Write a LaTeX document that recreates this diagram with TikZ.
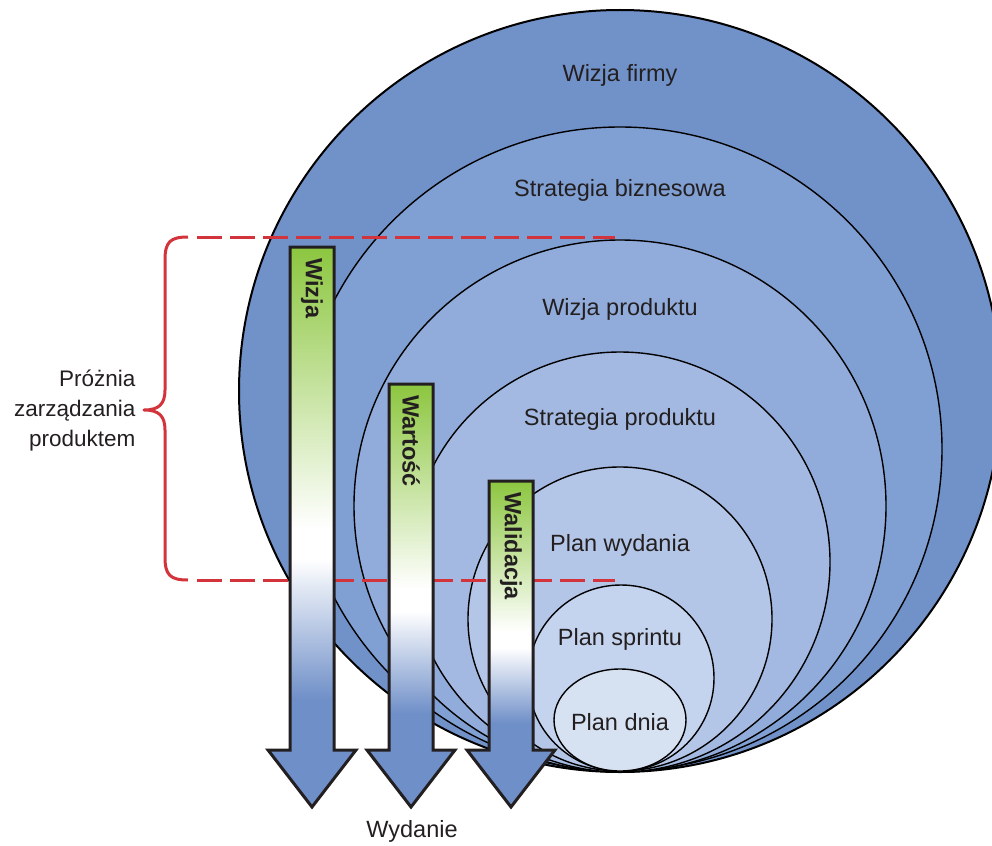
\documentclass[tikz,border=0pt]{standalone}
\usepackage{fontspec}
\setmainfont{Liberation Sans}
\usetikzlibrary{positioning}

\definecolor{ringA}{HTML}{7191C9}
\definecolor{ringB}{HTML}{809FD2}
\definecolor{ringC}{HTML}{91ACDA}
\definecolor{ringD}{HTML}{A3B9E1}
\definecolor{ringE}{HTML}{B4C6E7}
\definecolor{ringF}{HTML}{C5D4EE}
\definecolor{ringG}{HTML}{D6E1F2}
\definecolor{arrblue}{HTML}{6F8FC8}
\definecolor{arrgreen}{HTML}{8CC63F}
\definecolor{gapred}{HTML}{D3343B}
\definecolor{txtgray}{HTML}{231F20}

\pgfdeclareverticalshading{arrowfill}{100bp}{color(0bp)=(arrblue); color(25bp)=(arrblue); color(30bp)=(arrblue); color(44bp)=(white); color(47bp)=(white); color(75bp)=(arrgreen); color(100bp)=(arrgreen)}

\begin{document}
\begin{tikzpicture}[x=1pt,y=-1pt,
    ring/.style={draw=black,line width=1.4pt},
    lbl/.style={font=\fontsize{23.5}{27}\selectfont,text=txtgray},
    flag/.style={font=\fontsize{23.5}{27}\bfseries,text=txtgray,inner sep=0pt},
    gap/.style={draw=gapred,line width=3pt}]
    \useasboundingbox (0,0) rectangle (992,845);

    % Nested plans
    \draw[ring,fill=ringA,line width=2pt] (620,391) circle (381);
    \draw[ring,fill=ringB] (620,449) circle (322);
    \draw[ring,fill=ringC] (620,506) circle (266);
    \draw[ring,fill=ringD] (620,562) circle (210);
    \draw[ring,fill=ringE] (620,619) circle (152);
    \draw[ring,fill=ringF] (621,678) circle (93);
    \draw[ring,fill=ringG] (620,720) ellipse (66 and 51);

    \node[lbl] (firma) at (620,75) {Wizja firmy};
    \node[lbl] (biznes) at (620,190) {Strategia biznesowa};
    \node[lbl] (wizprod) at (620,309) {Wizja produktu};
    \node[lbl] (strprod) at (620,419) {Strategia produktu};
    \node[lbl] (wydanie) at (620,545) {Plan wydania};
    \node[lbl] (sprint) at (620,639) {Plan sprintu};
    \node[lbl] (dzien) at (620,722) {Plan dnia};

    % Management gap
    \coordinate (gaptop) at (197,237);
    \coordinate (gapbot) at (197,580);
    \draw[gap,dash pattern=on 25pt off 8pt] (gaptop) -- (615,237);
    \draw[gap,dash pattern=on 25pt off 8pt] (gapbot) -- (615,580);
    \draw[gap,line join=round] (188,237) .. controls (170,237) and (165,242) .. (165,260)
        -- (165,390) .. controls (165,404) and (159,410) .. (144,410)
        .. controls (159,410) and (165,416) .. (165,430)
        -- (165,557) .. controls (165,575) and (170,580) .. (188,580);
    \node[font=\fontsize{22.5}{30}\selectfont,text=txtgray,align=right,anchor=east]
        (gaplbl) at (139,411) {Próżnia\\zarządzania\\produktem};

    % Arrows
    \foreach \cx/\ytop/\lbl/\nm in {312/247/Wizja/wiz, 411/384/Wartość/war, 511/481/Walidacja/wal} {
        \shade[shading=arrowfill] (\cx-22,\ytop) rectangle (\cx+22,750);
        \fill[arrblue] (\cx-44,750) -- (\cx,807) -- (\cx+44,750) -- cycle;
        \draw[line width=3pt,line join=miter,draw=txtgray] (\cx-22,\ytop) -- (\cx+22,\ytop) -- (\cx+22,750)
            -- (\cx+44,750) -- (\cx,807) -- (\cx-44,750) -- (\cx-22,750) -- cycle;
        \node[flag,rotate=-90,anchor=west] (\nm) at (\cx,\ytop+11) {\lbl};
    }
    \node[lbl] (release) at (412,831) {Wydanie};
\end{tikzpicture}
\end{document}
